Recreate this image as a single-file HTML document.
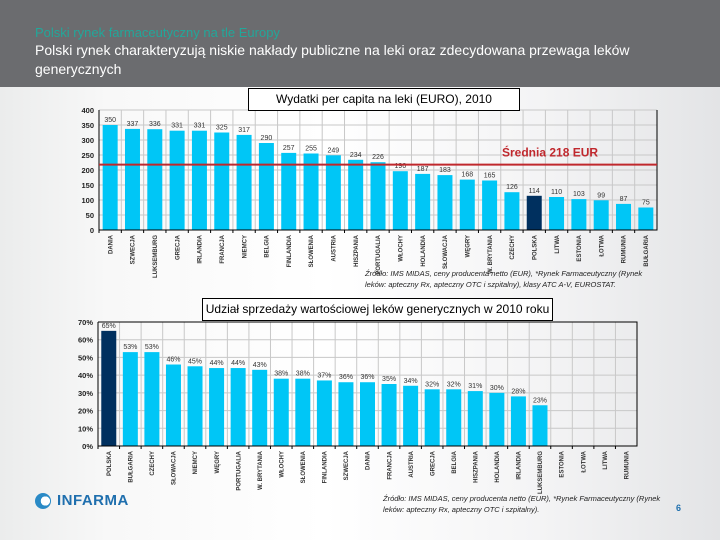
<!DOCTYPE html>
<html><head><meta charset="utf-8">
<style>
html,body{margin:0;padding:0;}
body{width:720px;height:540px;overflow:hidden;position:relative;font-family:"Liberation Sans","DejaVu Sans",sans-serif;background:linear-gradient(90deg,#ebecec 0%,#f8f8f8 15%,#ffffff 45%,#f4f4f5 75%,#e3e4e6 100%);}
#hdr{position:absolute;left:0;top:0;width:720px;height:87px;background:#6b6c6f;}
#t1{position:absolute;left:35px;top:25px;font-size:13px;color:#22a79a;white-space:nowrap;}
#t2{position:absolute;left:35px;top:41px;width:620px;font-size:14px;line-height:19px;color:#fff;}
.box{position:absolute;background:#fff;border:1px solid #000;font-size:12px;text-align:center;line-height:20px;}
.src{position:absolute;font-size:7.5px;font-style:italic;color:#222;line-height:11px;}
svg{position:absolute;left:0;top:0;}
</style></head><body>
<div id="hdr">
<div id="t1">Polski rynek farmaceutyczny na tle Europy</div>
<div id="t2">Polski rynek charakteryzują niskie nakłady publiczne na leki oraz zdecydowana przewaga leków generycznych</div>
</div>
<svg id="chart" width="720" height="540"></svg>
<div class="box" style="left:248px;top:88px;width:270px;height:21px;">Wydatki per capita na leki (EURO), 2010</div>
<div class="src" style="left:365px;top:268px;width:300px;">Źródło: IMS MIDAS, ceny producenta netto (EUR), *Rynek Farmaceutyczny (Rynek leków: apteczny Rx, apteczny OTC i szpitalny), klasy ATC A-V, EUROSTAT.</div>
<div class="box" style="left:202px;top:298px;width:349px;height:21px;">Udział sprzedaży wartościowej leków generycznych w 2010 roku</div>
<div class="src" style="left:383px;top:493px;width:290px;">Źródło: IMS MIDAS, ceny producenta netto (EUR), *Rynek Farmaceutyczny (Rynek leków: apteczny Rx, apteczny OTC i szpitalny).</div>
<div style="position:absolute;left:35px;top:492px;display:flex;align-items:center;">
<div style="width:16px;height:16px;border-radius:50%;background:radial-gradient(circle at 65% 50%,#fff 0 35%,#2a8ac6 36%);"></div>
<span style="margin-left:6px;font-weight:bold;font-size:15px;color:#1f6fae;letter-spacing:0.5px;">INFARMA</span></div>
<div style="position:absolute;left:676px;top:503px;font-size:9px;font-weight:bold;color:#1f6fae;">6</div>
<script>
const c1Cats=["DANIA","SZWECJA","LUKSEMBURG","GRECJA","IRLANDIA","FRANCJA","NIEMCY","BELGIA","FINLANDIA","SŁOWENIA","AUSTRIA","HISZPANIA","PORTUGALIA","WŁOCHY","HOLANDIA","SŁOWACJA","WĘGRY","W. BRYTANIA","CZECHY","POLSKA","LITWA","ESTONIA","ŁOTWA","RUMUNIA","BUŁGARIA"];
const c1Vals=[350,337,336,331,331,325,317,290,257,255,249,234,226,196,187,183,168,165,126,114,110,103,99,87,75];
const c1Ticks=[0,50,100,150,200,250,300,350,400];
const c1Mean=218;
const c2Cats=["POLSKA","BUŁGARIA","CZECHY","SŁOWACJA","NIEMCY","WĘGRY","PORTUGALIA","W. BRYTANIA","WŁOCHY","SŁOWENIA","FINLANDIA","SZWECJA","DANIA","FRANCJA","AUSTRIA","GRECJA","BELGIA","HISZPANIA","HOLANDIA","IRLANDIA","LUKSEMBURG","ESTONIA","ŁOTWA","LITWA","RUMUNIA"];
const c2Vals=[65,53,53,46,45,44,44,43,38,38,37,36,36,35,34,32,32,31,30,28,23,null,null,null,null];
const c2Ticks=[0,10,20,30,40,50,60,70];

const svg=document.getElementById('chart');
const NS='http://www.w3.org/2000/svg';
function mk(t,a,parent){const e=document.createElementNS(NS,t);for(const k in a)e.setAttribute(k,a[k]);(parent||svg).appendChild(e);return e;}

function drawChart(o){
  const g=mk('g',{});
  
  
  const n=o.cats.length, slot=(o.x1-o.x0)/n;
  const y=v=>o.y0-(v-o.min)/(o.max-o.min)*(o.y0-o.y1);
  const xc=i=>o.x0+slot*(i+0.5);
  for(let i=1;i<=n;i++){const l=mk('line',{x1:o.x0+slot*i,x2:o.x0+slot*i,y1:o.y1,y2:o.y0,stroke:'#c8c8c8','stroke-width':1},g);
    }
  o.ticks.forEach(t=>{
    const l=mk('line',{x1:o.x0,x2:o.x1,y1:y(t),y2:y(t),stroke:'#c8c8c8','stroke-width':1},g);
    
    const tx=mk('text',{x:o.x0-5,y:y(t)+3,'text-anchor':'end','font-size':'7.5','font-weight':'bold',fill:'#222'},g);
    tx.textContent=t+o.suffix;
    
  });
  o.vals.forEach((v,i)=>{
    if(v!==null){
      const r=mk('rect',{x:xc(i)-7.5,y:y(v),width:15,height:o.y0-y(v),fill:o.cats[i]==='POLSKA'?'#00305f':'#00c6f6'},g);
      
      const t=mk('text',{x:xc(i),y:y(v)-3,'text-anchor':'middle','font-size':'7',fill:'#333'},g);
      t.textContent=v+o.suffix;
      
    }
    const lab=mk('text',{transform:`translate(${xc(i)+2.2},${o.y0+5}) rotate(-90)`,'text-anchor':'end','font-size':'6','font-weight':'bold',fill:'#333'},g);
    lab.textContent=o.cats[i];
    
    mk('line',{x1:o.x0+slot*i,x2:o.x0+slot*i,y1:o.y0,y2:o.y0+3,stroke:'#000'},g);
  });
  const ax=mk('path',{d:`M${o.x0},${o.y1}V${o.y0}H${o.x1}V${o.y1}`+(o.top?`H${o.x0}`:''),fill:'none',stroke:'#000','stroke-width':1},g);
  
  return y;
}
const y1=drawChart({name:'chart1-spending',cats:c1Cats,vals:c1Vals,ticks:c1Ticks,min:0,max:400,x0:99,x1:657,y0:230,y1:110,suffix:'',top:false});
const ml=mk('line',{x1:99,x2:657,y1:y1(c1Mean),y2:y1(c1Mean),stroke:'#c0282d','stroke-width':2});

const mt=mk('text',{x:502,y:y1(c1Mean)-8,'font-size':'12','font-weight':'bold',fill:'#c0282d'});
mt.textContent='Średnia '+c1Mean+' EUR';

drawChart({name:'chart2-generics',cats:c2Cats,vals:c2Vals,ticks:c2Ticks,min:0,max:70,x0:98,x1:637,y0:446,y1:322,suffix:'%',top:true});
</script>
</body></html>
